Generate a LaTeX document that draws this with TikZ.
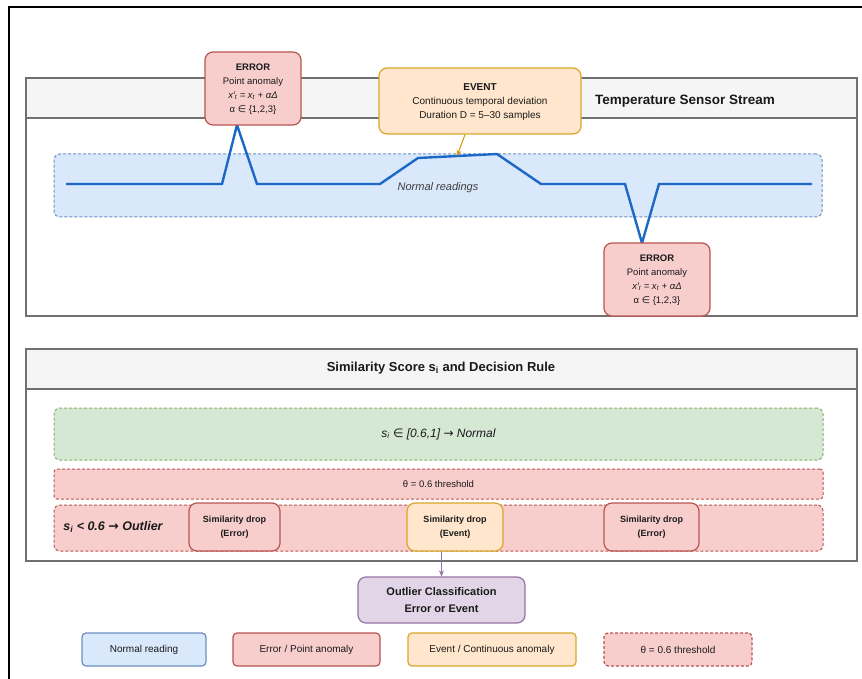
\documentclass[tikz,border=0pt]{standalone}
\usepackage{fontspec}
\setmainfont{Liberation Sans}
\newfontfamily\symfont{DejaVu Sans}
\usetikzlibrary{arrows.meta,calc}
\newcommand{\elem}{{\symfont ∈}}
\newcommand{\rarr}{{\symfont →}}
\newcommand{\fs}[1]{\fontsize{#1pt}{1.4\dimexpr#1pt\relax}\selectfont}
\definecolor{bluefill}{HTML}{DAE8FC}
\definecolor{bluedraw}{HTML}{6C8EBF}
\definecolor{redfill}{HTML}{F8CECC}
\definecolor{reddraw}{HTML}{B85450}
\definecolor{yelfill}{HTML}{FFE6CC}
\definecolor{yeldraw}{HTML}{D9A72A}
\definecolor{arrorange}{HTML}{D79B00}
\definecolor{grnfill}{HTML}{D5E8D4}
\definecolor{grndraw}{HTML}{82B366}
\definecolor{purfill}{HTML}{E1D5E7}
\definecolor{purdraw}{HTML}{9673A6}
\definecolor{hdrfill}{HTML}{F5F5F5}
\definecolor{paneldraw}{HTML}{707070}
\definecolor{signal}{HTML}{1C68C6}
\definecolor{txt}{HTML}{1A1A1A}
\tikzset{
  box/.style={rounded corners=8pt, line width=1.2pt, align=center, inner sep=0pt, text=txt},
  errbox/.style={box, fill=redfill, draw=reddraw},
  evbox/.style={box, fill=yelfill, draw=yeldraw},
  normbox/.style={box, fill=bluefill, draw=bluedraw},
  purbox/.style={box, fill=purfill, draw=purdraw},
  band/.style={rounded corners=6pt, line width=1pt, dash pattern=on 3pt off 2pt, inner sep=0pt, align=center, text=txt},
  panel/.style={draw=paneldraw, line width=1.3pt},
  hdr/.style={fill=hdrfill, draw=paneldraw, line width=1.3pt},
  lbl/.style={font=\fontsize{9.5pt}{13.8pt}\selectfont, text=txt, align=center, inner sep=0pt},
}
\begin{document}
\begin{tikzpicture}[x=1pt,y=-1pt]
\useasboundingbox (0,0) rectangle (862,679);
\fill[white] (0,0) rectangle (862,679);
% outer frame
\draw[black, line width=1.6pt] (9,679) -- (9,7) -- (862,7);

% ---------- panel 1: sensor stream ----------
\draw[panel, fill=white] (26,78) rectangle (857,316);
\draw[hdr] (26,78) rectangle (857,118);
\node[font=\bfseries\fs{13.5}, text=txt] (t1) at (685,101) {Temperature Sensor Stream};

\node[band, fill=bluefill, draw=bluedraw, minimum width=768pt, minimum height=63pt] (nb) at (438,185.5) {};
\node[font=\itshape\fs{11}, text=txt!85] (nr) at (438,188) {Normal readings};

% signal trace
\coordinate (s0) at (66,184);
\coordinate (s1) at (222,184);
\coordinate (pk1) at (237,125);
\coordinate (s2) at (257,184);
\coordinate (s3) at (380,184);
\coordinate (e1) at (418,158);
\coordinate (evtip) at (457,156);
\coordinate (e2) at (497,154);
\coordinate (s4) at (541,184);
\coordinate (s5) at (625,184);
\coordinate (pk2) at (642,243);
\coordinate (s6) at (659,184);
\coordinate (s7) at (812,184);
\draw[signal, line width=2.4pt, line join=miter]
  (s0) -- (s1) -- (pk1) -- (s2) -- (s3) -- (e1) -- (e2) -- (s4) -- (s5) -- (pk2) -- (s6) -- (s7);

% annotations
\node[errbox, minimum width=96pt, minimum height=73pt] (err1) at (253,88.5) {};
\node[lbl, anchor=north] at (253,64) {\bfseries ERROR\\Point anomaly\\\itshape x′\textsubscript{t} = x\textsubscript{t} + αΔ\\α \elem\ \{1,2,3\}};

\node[evbox, minimum width=202pt, minimum height=66pt] (ev) at (480,101) {};
\node[lbl, font=\fontsize{10pt}{14pt}\selectfont, anchor=north] at (480,83) {\bfseries EVENT\\Continuous temporal deviation\\Duration D = 5–30 samples};
\draw[arrorange, line width=1pt, -{Stealth[length=6pt,width=5pt]}] ([xshift=-15pt]ev.south) -- (evtip);

\node[errbox, minimum width=106pt, minimum height=73pt] (err2) at (657,279.5) {};
\node[lbl, anchor=north] at (657,255) {\bfseries ERROR\\Point anomaly\\\itshape x′\textsubscript{t} = x\textsubscript{t} + αΔ\\α \elem\ \{1,2,3\}};

% ---------- panel 2: similarity score ----------
\draw[panel, fill=white] (26,349) rectangle (857,561);
\draw[hdr] (26,349) rectangle (857,389);
\node[font=\bfseries\fs{13}, text=txt] (t2) at (441,368) {Similarity Score s\textsubscript{i} and Decision Rule};

\node[band, fill=grnfill, draw=grndraw, minimum width=769pt, minimum height=52pt, font=\itshape\fs{12}] (gb) at (438.5,434)
  {s\textsubscript{i} \elem\ [0.6,1] \rarr\ Normal};
\node[band, rounded corners=3pt, fill=redfill, draw=reddraw, minimum width=769pt, minimum height=30pt, font=\fs{9.5}] (tb) at (438.5,484)
  {θ = 0.6 threshold};
\node[band, fill=redfill, draw=reddraw, minimum width=769pt, minimum height=46pt] (ob) at (438.5,528) {};
\node[font=\bfseries\itshape\fs{12.5}, text=txt] (ol) at (113,527) {s\textsubscript{i} < 0.6 \rarr\ Outlier};

\node[errbox, minimum width=91pt, minimum height=48pt, font=\bfseries\fs{9}] (sd1) at (234.5,527) {Similarity drop\\[2pt](Error)};
\node[evbox, minimum width=96pt, minimum height=48pt, font=\bfseries\fs{9}] (sd2) at (455,527) {Similarity drop\\[2pt](Event)};
\node[errbox, minimum width=95pt, minimum height=48pt, font=\bfseries\fs{9}] (sd3) at (651.5,527) {Similarity drop\\[2pt](Error)};

% ---------- classification ----------
\node[purbox, minimum width=167pt, minimum height=46pt, font=\bfseries\fs{11}] (oc) at (441.5,600) {Outlier Classification\\[1pt]Error or Event};
\draw[purdraw, line width=1pt, -{Stealth[length=6pt,width=5pt]}] (oc.north |- sd2.south) -- (oc.north);

% ---------- legend ----------
\node[normbox, rounded corners=4pt, minimum width=124pt, minimum height=33pt, font=\fs{10}] (lg1) at (144,649.5) {Normal reading};
\node[errbox, rounded corners=4pt, minimum width=147pt, minimum height=33pt, font=\fs{10}] (lg2) at (306.5,649.5) {Error / Point anomaly};
\node[evbox, rounded corners=4pt, minimum width=168pt, minimum height=33pt, font=\fs{10}] (lg3) at (492,649.5) {Event / Continuous anomaly};
\node[band, rounded corners=4pt, line width=1.2pt, fill=redfill, draw=reddraw, minimum width=148pt, minimum height=33pt, font=\fs{10}] (lg4) at (678,649.5) {θ = 0.6 threshold};
\end{tikzpicture}
\end{document}
